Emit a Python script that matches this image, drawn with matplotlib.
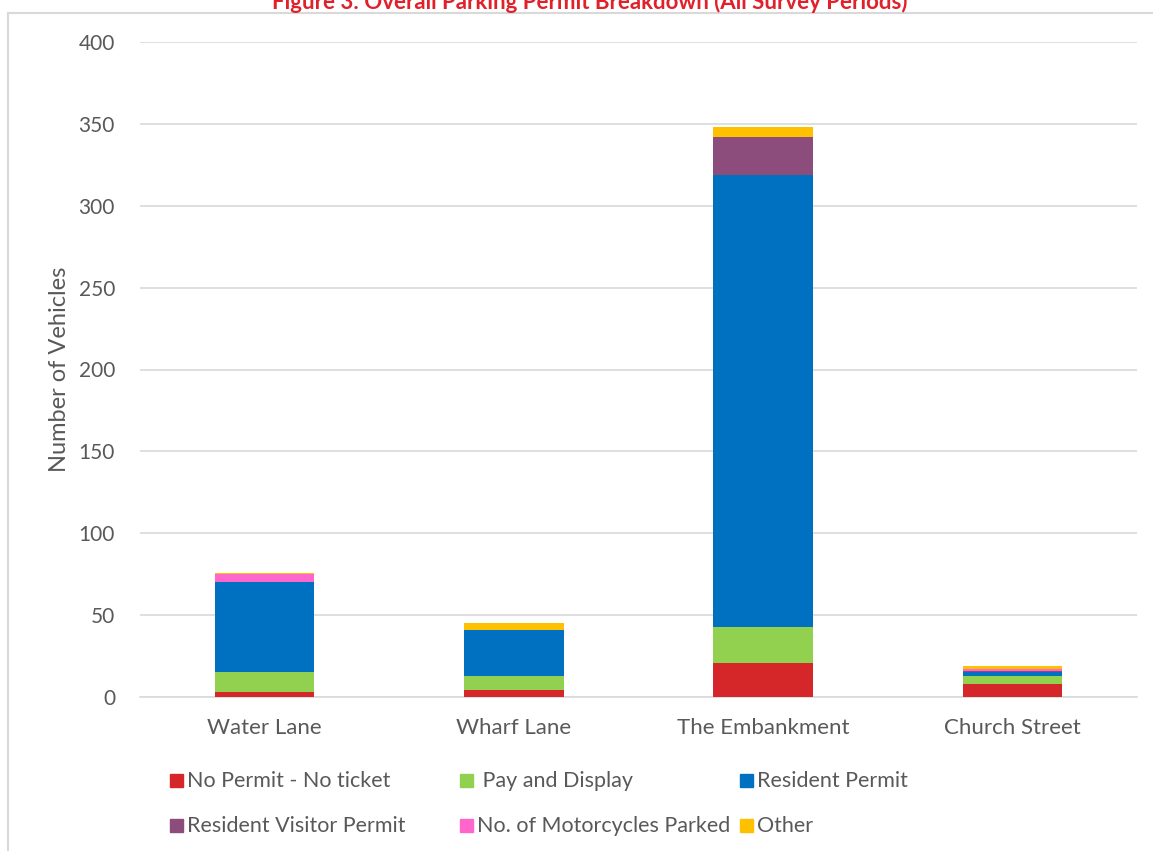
import matplotlib.pyplot as plt
from matplotlib.patches import Rectangle
import numpy as np

plt.rcParams['font.family'] = ['Lato', 'DejaVu Sans']

# survey locations
streets = ['Water Lane', 'Wharf Lane', 'The Embankment', 'Church Street']

# vehicles per permit type
no_permit = [3, 4, 21, 8]
pay_display = [12, 9, 22, 5]
resident = [55, 28, 276, 2]
resident_visitor = [0, 0, 23, 1]
motorcycles = [5, 0, 0, 1]
other = [1, 4, 6, 2]

series = [
    ('No Permit - No ticket', no_permit, '#D5262A'),
    (' Pay and Display', pay_display, '#92D050'),
    ('Resident Permit', resident, '#0070C0'),
    ('Resident Visitor Permit', resident_visitor, '#8C4C7C'),
    ('No. of Motorcycles Parked', motorcycles, '#FF66CC'),
    ('Other', other, '#FFC000'),
]

fig = plt.figure(figsize=(11.53, 8.51), dpi=100)
W, H = 1153, 851
ax = fig.add_axes([140 / W, 1 - 697 / H, (1137 - 140) / W, (697 - 42) / H])

x = np.arange(len(streets))
bottom = np.zeros(len(streets))
for name, vals, col in series:
    ax.bar(x, vals, 0.4, bottom=bottom, color=col, zorder=3)
    bottom += np.array(vals)

ax.set_xlim(-0.5, len(streets) - 0.5)
ax.set_ylim(0, 400)
ax.set_yticks(range(0, 401, 50))
ax.set_xticks(x)
ax.set_xticklabels(streets)
ax.grid(axis='y', color='#D9D9D9', linewidth=1.2, zorder=0)
for s in ['top', 'right', 'left']:
    ax.spines[s].set_visible(False)
ax.spines['bottom'].set_color('#D9D9D9')
ax.spines['bottom'].set_linewidth(1.2)
ax.tick_params(length=0, labelsize=15, labelcolor='#595959')
ax.tick_params(axis='x', labelsize=16, pad=15)
ax.tick_params(axis='y', pad=18)
ax.set_ylabel('Number of Vehicles', fontsize=17, color='#595959', labelpad=6)

# title (cut off at top as in the original)
fig.text(590 / W, 1 - 2 / H, 'Figure 3: Overall Parking Permit Breakdown (All Survey Periods)',
         ha='center', va='center', color='#E0202A', fontsize=16, fontweight='bold')

# outer chart border
fig.add_artist(plt.Line2D([8 / W, 8 / W], [0, 1 - 13 / H], color='#D9D9D9', lw=1.5))
fig.add_artist(plt.Line2D([8 / W, 1], [1 - 13 / H, 1 - 13 / H], color='#D9D9D9', lw=1.5))

# legend drawn by hand to match column positions
leg_pos = [(170, 780), (460, 780), (740, 780), (170, 825), (460, 825), (740, 825)]
for (name, vals, col), (lx, ly) in zip(series, leg_pos):
    fig.add_artist(Rectangle((lx / W, 1 - (ly + 7) / H), 13 / W, 13 / H,
                             color=col, transform=fig.transFigure))
    fig.text((lx + 17) / W, 1 - (ly + 1) / H, name, ha='left', va='center',
             fontsize=15.5, color='#595959')

fig.savefig('out.png', dpi=100)
